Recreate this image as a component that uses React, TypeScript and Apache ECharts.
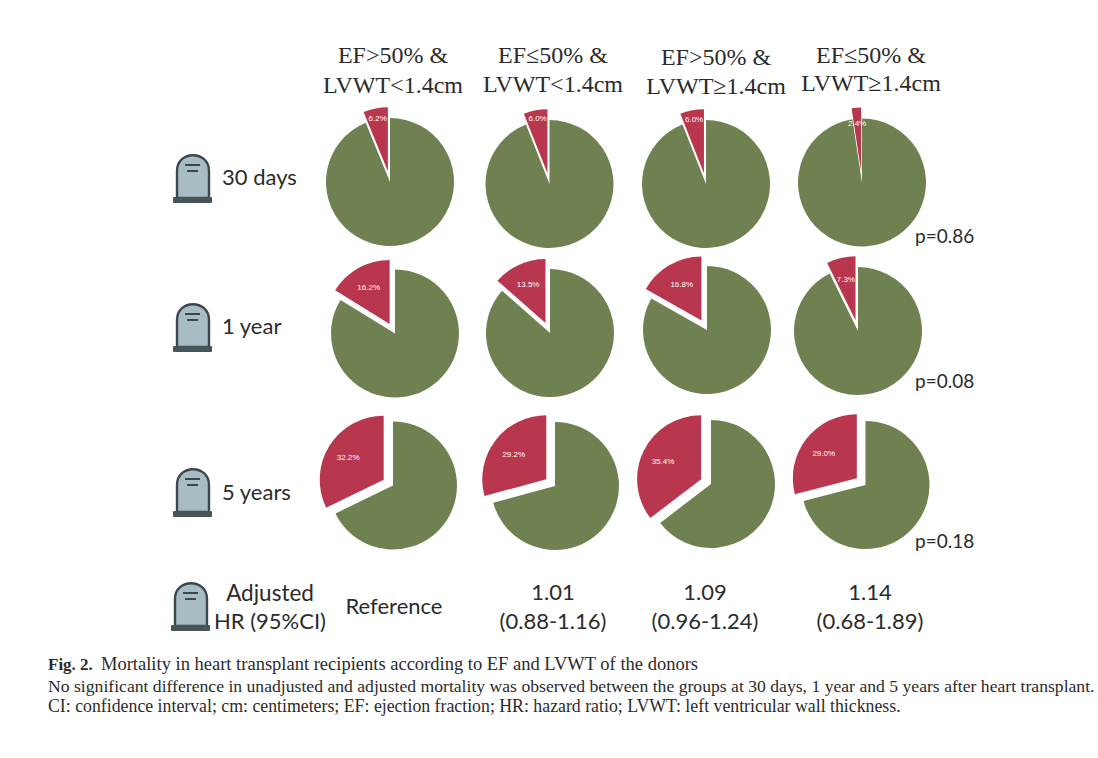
import React, { useEffect, useRef } from "react";
import * as echarts from "echarts";

const columnTop = ["EF>50% &", "EF≤50% &", "EF>50% &", "EF≤50% &"];
const columnBottom = ["LVWT<1.4cm", "LVWT<1.4cm", "LVWT≥1.4cm", "LVWT≥1.4cm"];
const rowLabels = ["30 days", "1 year", "5 years"];
const mortality30d = [6.2, 6.0, 6.0, 2.4];
const mortality1y = [16.2, 13.5, 16.8, 7.3];
const mortality5y = [32.2, 29.2, 35.4, 29.0];
const pValues = ["p=0.86", "p=0.08", "p=0.18"];
const hrTop = ["Reference", "1.01", "1.09", "1.14"];
const hrBottom = ["", "(0.88-1.16)", "(0.96-1.24)", "(0.68-1.89)"];
const captionBold = "Fig. 2.";
const captionTitle = "Mortality in heart transplant recipients according to EF and LVWT of the donors";
const captionLine2 = "No significant difference in unadjusted and adjusted mortality was observed between the groups at 30 days, 1 year and 5 years after heart transplant.";
const captionLine3 = "CI: confidence interval; cm: centimeters; EF: ejection fraction; HR: hazard ratio; LVWT: left ventricular wall thickness.";

// layout only
const pieCenters = [
  [[390, 182], [549.5, 184], [706, 184], [862, 182.5]],
  [[395, 333.5], [550, 333], [707, 330], [858, 331]],
  [[393, 485.5], [555, 486], [711, 484], [865.5, 485]],
];
const labelRadii = [
  [55, 55, 55, 51],
  [42, 44, 50, 44],
  [53, 43, 44, 54],
];
const labelNudges = [
  [[1, 4], [1, 2], [1, 3], [0, 6]],
  [[1, 3], [2, 4], [7, 10], [1, 5]],
  [[12, 8], [4, 3], [4, 3], [12, 10]],
];
const RADIUS = 64;
const headerX = [393, 553, 716, 871];
const headerY = [[55, 85], [55, 84], [57, 86], [55, 83]];
const rowLabelY = [176.5, 325.5, 491.5];
const pY = [235, 380, 540];
const tombs = [[173, 152], [173, 301], [173, 466], [171, 580]];
const hrX = [394, 553, 705, 870];

const GREEN = "#6f8150";
const RED = "#b8374f";
const INK = "#2b2b2b";
const SANS = "Lato, 'Noto Sans', sans-serif";
const SERIF = "'Liberation Serif', serif";

echarts.graphic.registerShape(
  "tombBody",
  echarts.graphic.extendPath("M4 46 V19 C4 -2 36 -2 36 19 V46 Z", {})
);

function tomb(x: number, y: number) {
  return {
    type: "group",
    x,
    y,
    children: [
      { type: "tombBody", style: { fill: "#a7bcc3", stroke: "#3c474d", lineWidth: 2.4 } },
      { type: "rect", shape: { x: 0, y: 45, width: 39, height: 6, r: 1 }, style: { fill: "#47555b" } },
      { type: "line", shape: { x1: 12, y1: 13, x2: 27, y2: 13 }, style: { stroke: "#3c474d", lineWidth: 2 } },
      { type: "line", shape: { x1: 14, y1: 19, x2: 25, y2: 19 }, style: { stroke: "#3c474d", lineWidth: 2 } },
    ],
  };
}

function txt(text: string, x: number, y: number, size: number, family: string, align = "center", extra: any = {}) {
  return {
    type: "text",
    x,
    y,
    style: { text, fontSize: size, fontFamily: family, fill: INK, textAlign: align, textVerticalAlign: "middle", ...extra },
  };
}

function pieSeries(values: number[], r: number) {
  return values.map((p, c) => {
    const theta = (p / 100) * Math.PI;
    const shift = labelRadii[r][c] - RADIUS / 2;
    const [nx, ny] = labelNudges[r][c];
    return {
      type: "pie",
      center: pieCenters[r][c],
      radius: [0, RADIUS],
      startAngle: 90,
      clockwise: true,
      selectedMode: "multiple",
      selectedOffset: 11,
      silent: true,
      animation: false,
      emphasis: { disabled: true },
      label: { show: false },
      labelLine: { show: false },
      labelLayout: () => ({ dx: -shift * Math.sin(theta) + nx, dy: -shift * Math.cos(theta) + ny }),
      data: [
        { value: +(100 - p).toFixed(1), name: "Alive", itemStyle: { color: GREEN } },
        {
          value: p,
          name: "Died",
          selected: true,
          itemStyle: { color: RED },
          select: { itemStyle: { color: RED } },
          label: {
            show: true,
            position: "inside",
            formatter: p.toFixed(1) + "%",
            color: "#fff",
            fontSize: 8,
            fontFamily: "'Liberation Sans', sans-serif",
          },
        },
      ],
    };
  });
}

export default function App() {
  const ref = useRef<HTMLDivElement>(null);
  useEffect(() => {
    const chart = echarts.init(ref.current!, undefined, { renderer: "svg" });
    const elements: any[] = [];
    columnTop.forEach((t, i) => {
      elements.push(txt(t, headerX[i], headerY[i][0], 24, SERIF));
      elements.push(txt(columnBottom[i], headerX[i], headerY[i][1], 24, SERIF));
    });
    rowLabels.forEach((t, i) => {
      elements.push(txt(t, 222, rowLabelY[i], 22, SANS, "left"));
      elements.push(txt(pValues[i], 915, pY[i], 19, SANS, "left"));
    });
    tombs.forEach(([x, y]) => elements.push(tomb(x, y)));
    elements.push(txt("Adjusted", 270, 592, 22.5, SANS));
    elements.push(txt("HR (95%CI)", 270, 620, 22, SANS));
    hrTop.forEach((t, i) => {
      elements.push(txt(t, hrX[i], i === 0 ? 605 : 591, 22, SANS));
      if (hrBottom[i]) elements.push(txt(hrBottom[i], hrX[i], 620, 22, SANS));
    });
    elements.push(txt(captionBold, 48, 664, 17, SERIF, "left", { fontWeight: "bold" }));
    elements.push(txt(captionTitle, 101, 664, 18.5, SERIF, "left"));
    elements.push(txt(captionLine2, 48, 686, 17.65, SERIF, "left"));
    elements.push(txt(captionLine3, 48, 706, 17.8, SERIF, "left"));

    chart.setOption({
      animation: false,
      backgroundColor: "#ffffff",
      series: [
        ...pieSeries(mortality30d, 0),
        ...pieSeries(mortality1y, 1),
        ...pieSeries(mortality5y, 2),
      ],
      graphic: { elements },
    });
    return () => chart.dispose();
  }, []);
  return <div ref={ref} style={{ position: "fixed", left: 0, top: 0, width: 1098, height: 758 }} />;
}
